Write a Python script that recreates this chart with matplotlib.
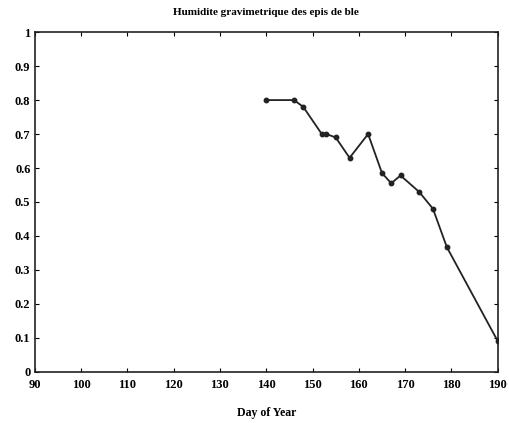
import matplotlib.pyplot as plt

days = [140, 146, 148, 152, 153, 155, 158, 162, 165, 167, 169, 173, 176, 179, 190]
humidity = [0.80, 0.80, 0.78, 0.70, 0.70, 0.69, 0.63, 0.70, 0.585, 0.555, 0.578, 0.53, 0.48, 0.367, 0.09]

x_ticks = [90, 100, 110, 120, 130, 140, 150, 160, 170, 180, 190]
y_ticks = [0, 0.1, 0.2, 0.3, 0.4, 0.5, 0.6, 0.7, 0.8, 0.9, 1]
y_labels = ["0", "0.1", "0.2", "0.3", "0.4", "0.5", "0.6", "0.7", "0.8", "0.9", "1"]

plt.rcParams['font.family'] = ['Liberation Serif', 'DejaVu Serif']

fig = plt.figure(figsize=(5.09, 4.23), dpi=100)
ax = fig.add_axes([0.068, 0.121, 0.910, 0.803])

ax.plot(days, humidity, color="#222222", linewidth=1.3, marker="o", markersize=3.2)

ax.set_xlim(90, 190)
ax.set_ylim(0, 1)
ax.set_xticks(x_ticks)
ax.set_yticks(y_ticks)
ax.set_yticklabels(y_labels)
ax.tick_params(direction="in", top=True, right=True, length=3, labelsize=9)
ax.tick_params(axis="x", pad=5)
ax.tick_params(axis="y", pad=3)
for lab in ax.get_xticklabels() + ax.get_yticklabels():
    lab.set_fontweight("bold")
for s in ax.spines.values():
    s.set_linewidth(1.2)
    s.set_color("#222222")

ax.set_title("Humidite gravimetrique des epis de ble", fontsize=8, fontweight="bold", pad=12)
ax.set_xlabel("Day of Year", fontsize=8.5, fontweight="bold", labelpad=12)

fig.savefig("out.png", dpi=100)
